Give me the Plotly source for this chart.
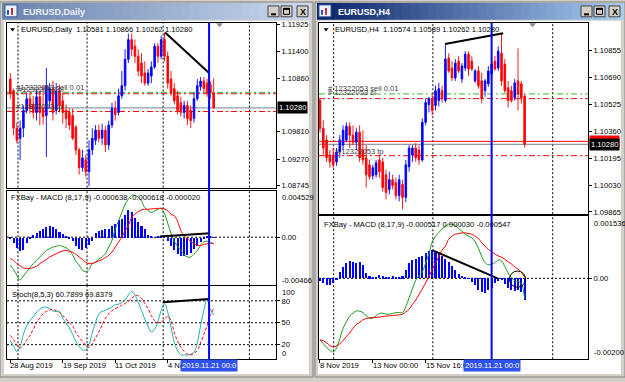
import plotly.graph_objects as go

# ---------------- data : EURUSD Daily ----------------
daily_open = [1.1085, 1.1062, 1.0988, 1.0968, 1.0988, 1.1023, 1.1046, 1.1035, 1.1019, 1.1050,
              1.1027, 1.1013, 1.1042, 1.1066, 1.1023, 1.1062, 1.1042, 1.1023, 1.1019, 1.1013,
              1.0990, 1.0945, 1.0910, 1.0925, 1.0902, 1.0945, 1.0964, 1.0984, 1.0968, 1.0984,
              1.0955, 1.0994, 1.1027, 1.1019, 1.1052, 1.1072, 1.1124, 1.1163, 1.1150, 1.1130,
              1.1117, 1.1097, 1.1077, 1.1091, 1.1109, 1.1150, 1.1130, 1.1163, 1.1130, 1.1085,
              1.1066, 1.1052, 1.1038, 1.1019, 1.1033, 1.1023, 1.1007, 1.1046, 1.1070, 1.1081,
              1.1077, 1.1074, 1.10581]
daily_high = [1.1097, 1.1066, 1.0999, 1.1003, 1.1033, 1.1058, 1.1062, 1.1052, 1.1066, 1.1062,
              1.1072, 1.1107, 1.1077, 1.1081, 1.1077, 1.1074, 1.1058, 1.1035, 1.1027, 1.1027,
              1.0994, 1.0949, 1.0945, 1.0935, 1.0964, 1.0988, 1.0994, 1.0995, 1.0997, 1.0992,
              1.1003, 1.1038, 1.1042, 1.1066, 1.1101, 1.1144, 1.1175, 1.1175, 1.1163, 1.1144,
              1.1136, 1.1120, 1.1105, 1.1120, 1.1156, 1.1156, 1.1171, 1.1177, 1.1140, 1.1101,
              1.1077, 1.1062, 1.1050, 1.1042, 1.1042, 1.1033, 1.1058, 1.1085, 1.1089, 1.1089,
              1.1085, 1.1081, 1.10866]
daily_low = [1.1046, 1.0974, 1.0958, 1.0925, 1.0970, 1.1017, 1.1017, 1.1007, 1.1003, 1.0994,
             1.0995, 1.0931, 1.1027, 1.1003, 1.1015, 1.1019, 1.0997, 1.0988, 1.0984, 1.0964,
             1.0935, 1.0896, 1.0902, 1.0892, 1.0873, 1.0935, 1.0955, 1.0960, 1.0955, 1.0941,
             1.0945, 1.0988, 1.1003, 1.1013, 1.1046, 1.1062, 1.1117, 1.1130, 1.1117, 1.1091,
             1.1077, 1.1072, 1.1072, 1.1077, 1.1105, 1.1117, 1.1124, 1.1120, 1.1066, 1.1052,
             1.1035, 1.1015, 1.1011, 1.1007, 1.0994, 1.0988, 1.0999, 1.1042, 1.1062, 1.1058,
             1.1050, 1.1046, 1.10262]
daily_close = [1.1058, 1.0988, 1.0964, 1.0988, 1.1023, 1.1046, 1.1027, 1.1019, 1.1050, 1.1019,
               1.1011, 1.1072, 1.1066, 1.1019, 1.1062, 1.1033, 1.1019, 1.1007, 1.0994, 1.0968,
               1.0945, 1.0910, 1.0929, 1.0902, 1.0945, 1.0968, 1.0984, 1.0968, 1.0984, 1.0955,
               1.0994, 1.1027, 1.1015, 1.1052, 1.1072, 1.1124, 1.1163, 1.1144, 1.1130, 1.1101,
               1.1091, 1.1077, 1.1097, 1.1109, 1.1150, 1.1130, 1.1163, 1.1130, 1.1077, 1.1058,
               1.1042, 1.1023, 1.1019, 1.1033, 1.1007, 1.1003, 1.1046, 1.1072, 1.1081, 1.1066,
               1.1058, 1.1058, 1.10280]

daily_macd_hist = [-0.00016, -0.00054, -0.00102, -0.00131, -0.00118, -0.00054, -0.00013, 0.00026, 0.00048, 0.00064,
                   0.00086, 0.00105, 0.00112, 0.00099, 0.00080, 0.00054, 0.00035, 0.00010, -0.00006, -0.00032,
                   -0.00080, -0.00105, -0.00118, -0.00102, -0.00067, -0.00029, 0.00041, 0.00064, 0.00073, 0.00080,
                   0.00089, 0.00112, 0.00137, 0.00169, 0.00185, 0.00217, 0.00265, 0.00249, 0.00191, 0.00153,
                   0.00112, 0.00080, 0.00022, 0.00010, 0.00003, 0.00010, 0.00010, 0.00003, -0.00032, -0.00080,
                   -0.00124, -0.00160, -0.00179, -0.00182, -0.00169, -0.00144, -0.00112, -0.00080, -0.00041, -0.00016,
                   0.00010, 0.00016, -0.00002]
daily_macd_main = [-0.00271, -0.00313, -0.00367, -0.00415, -0.00377, -0.00335, -0.00294, -0.00256, -0.00224, -0.00192,
                   -0.00160, -0.00128, -0.00112, -0.00096, -0.00090, -0.00080, -0.00090, -0.00102, -0.00128, -0.00169,
                   -0.00233, -0.00271, -0.00319, -0.00335, -0.00313, -0.00256, -0.00240, -0.00211, -0.00192, -0.00160,
                   -0.00096, -0.00032, 0.00079, 0.00159, 0.00239, 0.00319, 0.00367, 0.00408, 0.00405, 0.00389,
                   0.00351, 0.00287, 0.00261, 0.00239, 0.00255, 0.00271, 0.00280, 0.00229, 0.00134, 0.00038,
                   -0.00039, -0.00090, -0.00128, -0.00169, -0.00192, -0.00192, -0.00160, -0.00128, -0.00080, -0.00045,
                   -0.00039, -0.00048, -0.00064]
daily_macd_signal = [-0.00208, -0.00224, -0.00256, -0.00278, -0.00297, -0.00303, -0.00303, -0.00294, -0.00281, -0.00256,
                     -0.00236, -0.00217, -0.00192, -0.00176, -0.00160, -0.00144, -0.00134, -0.00128, -0.00137, -0.00147,
                     -0.00166, -0.00192, -0.00217, -0.00243, -0.00256, -0.00256, -0.00243, -0.00230, -0.00217, -0.00198,
                     -0.00176, -0.00144, -0.00096, -0.00048, 0.00000, 0.00063, 0.00111, 0.00191, 0.00223, 0.00248,
                     0.00264, 0.00271, 0.00271, 0.00274, 0.00277, 0.00280, 0.00280, 0.00274, 0.00255, 0.00223,
                     0.00209, 0.00154, 0.00063, 0.00016, -0.00016, -0.00039, -0.00064, -0.00077, -0.00080, -0.00070,
                     -0.00064, -0.00058, -0.00062]
daily_stoch_main = [26.1, 17.7, 10.6, 17.7, 34.1, 45.8, 52.9, 58.5, 64.6, 68.4,
                    71.2, 71.2, 69.3, 66.0, 65.5, 65.5, 56.2, 49.6, 43.5, 34.1,
                    24.7, 17.7, 12.9, 12.9, 20.0, 36.4, 50.5, 62.3, 65.5, 66.9,
                    69.3, 71.6, 74.9, 75.4, 77.7, 81.0, 88.1, 92.8, 88.1, 77.7,
                    66.9, 55.2, 44.9, 37.4, 41.1, 51.5, 66.9, 76.0, 64.6, 43.5,
                    23.3, 12.0, 5.9, 5.9, 5.9, 6.9, 9.7, 22.3, 45.8, 66.9,
                    82.5, 68.0, 60.79]
daily_stoch_signal = [32.7, 27.0, 20.0, 15.3, 20.0, 26.1, 32.7, 41.1, 50.5, 56.2,
                      62.3, 65.5, 67.4, 68.4, 66.5, 64.1, 59.9, 55.2, 49.6, 45.8,
                      36.4, 30.3, 24.7, 19.1, 16.2, 20.9, 29.4, 37.4, 46.8, 56.2,
                      62.3, 66.5, 69.3, 71.6, 74.0, 76.3, 79.6, 83.4, 87.1, 87.1,
                      83.4, 76.3, 69.3, 59.9, 52.9, 50.5, 50.5, 55.2, 59.0, 52.9,
                      36.4, 24.7, 16.7, 10.6, 6.9, 5.9, 8.3, 12.0, 22.3, 34.1,
                      45.8, 59.9, 69.84]

# ---------------- data : EURUSD H4 ----------------
h4_open = [1.10548, 1.10378, 1.10306, 1.10215, 1.10215, 1.10172, 1.10233, 1.10275, 1.10306, 1.10390,
           1.10336, 1.10293, 1.10354, 1.10245, 1.10197, 1.10154, 1.10087, 1.10093, 1.10184, 1.10172,
           1.10093, 1.10003, 1.10063, 1.10045, 1.09966, 1.10033, 1.09954, 1.10142, 1.10215, 1.10257,
           1.10245, 1.10184, 1.10415, 1.10524, 1.10560, 1.10518, 1.10548, 1.10609, 1.10548, 1.10809,
           1.10748, 1.10687, 1.10790, 1.10681, 1.10748, 1.10833, 1.10790, 1.10669, 1.10730, 1.10669,
           1.10609, 1.10651, 1.10712, 1.10790, 1.10748, 1.10839, 1.10772, 1.10627, 1.10609, 1.10566,
           1.10669, 1.10651, 1.10574]
h4_high = [1.10566, 1.10427, 1.10336, 1.10245, 1.10257, 1.10257, 1.10336, 1.10396, 1.10415, 1.10415,
           1.10396, 1.10378, 1.10396, 1.10366, 1.10275, 1.10184, 1.10154, 1.10184, 1.10215, 1.10197,
           1.10124, 1.10112, 1.10093, 1.10075, 1.10093, 1.10063, 1.10184, 1.10275, 1.10275, 1.10287,
           1.10275, 1.10439, 1.10560, 1.10572, 1.10596, 1.10639, 1.10657, 1.10639, 1.10893, 1.10839,
           1.10790, 1.10803, 1.10821, 1.10778, 1.10851, 1.10851, 1.10821, 1.10742, 1.10760, 1.10718,
           1.10681, 1.10760, 1.10790, 1.10821, 1.10881, 1.10960, 1.10803, 1.10669, 1.10639, 1.10681,
           1.10869, 1.10669, 1.10589]
h4_low = [1.10354, 1.10215, 1.10172, 1.10136, 1.10136, 1.10148, 1.10197, 1.10245, 1.10293, 1.10257,
          1.10275, 1.10245, 1.10172, 1.10154, 1.10015, 1.10063, 1.10063, 1.10075, 1.10075, 1.09990,
          1.09942, 1.09972, 1.10003, 1.09942, 1.09930, 1.09881, 1.09924, 1.10112, 1.10172, 1.10172,
          1.10154, 1.10172, 1.10396, 1.10475, 1.10457, 1.10487, 1.10512, 1.10536, 1.10536, 1.10718,
          1.10669, 1.10669, 1.10718, 1.10657, 1.10730, 1.10699, 1.10730, 1.10657, 1.10621, 1.10530,
          1.10572, 1.10633, 1.10693, 1.10730, 1.10730, 1.10639, 1.10596, 1.10506, 1.10536, 1.10548,
          1.10487, 1.10530, 1.10262]
h4_close = [1.10378, 1.10257, 1.10197, 1.10172, 1.10154, 1.10233, 1.10306, 1.10366, 1.10390, 1.10336,
            1.10293, 1.10354, 1.10197, 1.10184, 1.10093, 1.10081, 1.10136, 1.10166, 1.10112, 1.10015,
            1.09984, 1.10063, 1.10027, 1.09966, 1.10063, 1.09954, 1.10154, 1.10257, 1.10257, 1.10197,
            1.10184, 1.10415, 1.10536, 1.10560, 1.10487, 1.10609, 1.10621, 1.10560, 1.10803, 1.10730,
            1.10687, 1.10778, 1.10730, 1.10760, 1.10833, 1.10742, 1.10742, 1.10730, 1.10639, 1.10560,
            1.10669, 1.10730, 1.10772, 1.10742, 1.10851, 1.10669, 1.10609, 1.10548, 1.10548, 1.10657,
            1.10590, 1.10566, 1.10280]

h4_macd_hist = [-0.000073, -0.000114, -0.000163, -0.000179, -0.000130, -0.000033, 0.000146, 0.000268, 0.000374, 0.000415,
                0.000390, 0.000374, 0.000390, 0.000333, 0.000130, 0.000049, 0.000008, 0.000008, 0.000073, 0.000049,
                0.000008, 0.000033, 0.000049, 0.000024, 0.000033, 0.000049, 0.000195, 0.000374, 0.000447, 0.000472,
                0.000528, 0.000553, 0.000618, 0.000675, 0.000699, 0.000667, 0.000593, 0.000537, 0.000472, 0.000390,
                0.000293, 0.000195, 0.000106, 0.000057, 0.000024, -0.000008, -0.000098, -0.000179, -0.000301, -0.000350,
                -0.000374, -0.000293, -0.000244, -0.000130, -0.000081, -0.000041, -0.000138, -0.000252, -0.000285, -0.000309,
                -0.000301, -0.000341, -0.000547]
h4_macd_main = [-0.001520, -0.001618, -0.001707, -0.001780, -0.001821, -0.001724, -0.001496, -0.001236, -0.001073, -0.000927,
                -0.000862, -0.000805, -0.000813, -0.000846, -0.000927, -0.000992, -0.000984, -0.000927, -0.000870, -0.000862,
                -0.000886, -0.000886, -0.000870, -0.000846, -0.000846, -0.000846, -0.000699, -0.000480, -0.000260, -0.000049,
                0.000065, 0.000163, 0.000374, 0.000602, 0.000902, 0.001041, 0.001130, 0.001220, 0.001285, 0.001341,
                0.001333, 0.001309, 0.001228, 0.001163, 0.001089, 0.001041, 0.001000, 0.000902, 0.000740, 0.000537,
                0.000390, 0.000333, 0.000350, 0.000390, 0.000455, 0.000431, 0.000293, 0.000130, 0.000008, -0.000057,
                -0.000081, -0.000130, -0.000504]
h4_macd_signal = [-0.001520, -0.001545, -0.001593, -0.001659, -0.001699, -0.001667, -0.001618, -0.001537, -0.001439, -0.001350,
                  -0.001236, -0.001138, -0.001089, -0.001024, -0.000992, -0.000976, -0.000967, -0.000967, -0.000959, -0.000943,
                  -0.000935, -0.000927, -0.000919, -0.000911, -0.000902, -0.000886, -0.000829, -0.000764, -0.000642, -0.000537,
                  -0.000398, -0.000260, -0.000114, 0.000049, 0.000211, 0.000374, 0.000537, 0.000699, 0.000797, 0.000967,
                  0.001041, 0.001089, 0.001106, 0.001122, 0.001122, 0.001106, 0.001089, 0.001041, 0.000984, 0.000878,
                  0.000797, 0.000715, 0.000659, 0.000602, 0.000553, 0.000520, 0.000472, 0.000407, 0.000358, 0.000276,
                  0.000228, 0.000146, 0.000030]

# ---------------- labels / levels ----------------
daily_price_ticks = [1.11925, 1.11400, 1.10860, 1.09810, 1.09270, 1.08745]
h4_price_ticks = [1.10855, 1.10690, 1.10525, 1.10360, 1.10195, 1.10030, 1.09865]
daily_date_labels = ["28 Aug 2019", "19 Sep 2019", "11 Oct 2019", "4 Nov 2019"]
daily_date_bars = [0, 16, 32, 48]
h4_date_labels = ["8 Nov 2019", "13 Nov 00:00", "15 Nov 16:00"]
h4_date_bars = [0, 16, 32]
cursor_label = "2019.11.21 00:0"
daily_cursor_bar = 60.6
h4_cursor_bar = 52
daily_grid_bars = [2.35, 23.4, 46.6, 72.9]
h4_grid_bars = [4.15, 34.2, 70.5]
order_open, order_sl, order_tp = 1.10589, 1.10560, 1.10210
bid_price, ask_price = 1.10280, 1.10298
stoch_levels = [80, 50, 20]

daily_trend_x, daily_trend_y = [47.2, 60.6], [1.11769, 1.10970]
daily_macd_trend_x, daily_macd_trend_y = [45.6, 60.9], [0.00006, 0.00038]
daily_stoch_trend_x, daily_stoch_trend_y = [46.6, 60.6], [78.0, 82.4]
h4_trend_x, h4_trend_y = [37.9, 55.5], [1.10895, 1.10962]
h4_macd_trend_x, h4_macd_trend_y = [34.15, 53.85], [0.00069, 0.0]

# ---------------- helpers ----------------
W, H = 625, 382
FONT = "Liberation Sans"
FS = 7.6
BLUE, RED, GREEN, CYAN = "#0000ff", "#ff0000", "#1a9a1a", "#20b2aa"


def fx(p):
    return p / W


def fy(p):
    return 1 - p / H


daily_idx = list(range(len(daily_close)))
h4_idx = list(range(len(h4_close)))

fig = go.Figure()

# ---- candles
for xs, o, h, l, c, xa, ya in [
    (daily_idx, daily_open, daily_high, daily_low, daily_close, "x", "y"),
    (h4_idx, h4_open, h4_high, h4_low, h4_close, "x4", "y4"),
]:
    fig.add_trace(go.Candlestick(
        x=xs, open=o, high=h, low=l, close=c,
        increasing=dict(line=dict(color=BLUE, width=0.9), fillcolor=BLUE),
        decreasing=dict(line=dict(color=RED, width=0.9), fillcolor=RED),
        whiskerwidth=0, xaxis=xa, yaxis=ya, showlegend=False))

# ---- MACD panes
for xs, hist, main, sig, xa, ya in [
    (daily_idx, daily_macd_hist, daily_macd_main, daily_macd_signal, "x2", "y2"),
    (h4_idx, h4_macd_hist, h4_macd_main, h4_macd_signal, "x5", "y5"),
]:
    fig.add_trace(go.Bar(x=xs, y=hist, marker_color=BLUE, marker_line_width=0, width=0.62,
                         xaxis=xa, yaxis=ya, showlegend=False))
    fig.add_trace(go.Scatter(x=xs, y=main, mode="lines", line=dict(color=GREEN, width=1, shape="spline"),
                             xaxis=xa, yaxis=ya, showlegend=False))
    fig.add_trace(go.Scatter(x=xs, y=sig, mode="lines", line=dict(color=RED, width=1, shape="spline"),
                             xaxis=xa, yaxis=ya, showlegend=False))

# ---- Stochastic
fig.add_trace(go.Scatter(x=daily_idx, y=daily_stoch_main, mode="lines",
                         line=dict(color=CYAN, width=1, shape="spline"), xaxis="x3", yaxis="y3", showlegend=False))
fig.add_trace(go.Scatter(x=daily_idx, y=daily_stoch_signal, mode="lines",
                         line=dict(color=RED, width=1, dash="3px,2px", shape="spline"), xaxis="x3", yaxis="y3",
                         showlegend=False))

# ---- trend lines
for tx, ty, xa, ya in [
    (daily_trend_x, daily_trend_y, "x", "y"),
    (daily_macd_trend_x, daily_macd_trend_y, "x2", "y2"),
    (daily_stoch_trend_x, daily_stoch_trend_y, "x3", "y3"),
    (h4_trend_x, h4_trend_y, "x4", "y4"),
    (h4_macd_trend_x, h4_macd_trend_y, "x5", "y5"),
]:
    fig.add_trace(go.Scatter(x=tx, y=ty, mode="lines", line=dict(color="black", width=2),
                             xaxis=xa, yaxis=ya, showlegend=False))

shapes = []
annotations = []


def rect(x0, y0, x1, y1, fill, line=None, lw=0, layer="below"):
    shapes.append(dict(type="rect", xref="paper", yref="paper", x0=fx(x0), x1=fx(x1), y0=fy(y1), y1=fy(y0),
                       fillcolor=fill, line=dict(color=line or fill, width=lw), layer=layer))


def hexrgb(c):
    return tuple(int(c[i:i + 2], 16) for i in (1, 3, 5))


def gradient(x0, x1, y0, y1, c0, c1, n=36):
    a, b = hexrgb(c0), hexrgb(c1)
    step = (x1 - x0) / n
    for k in range(n):
        t = k / (n - 1)
        col = "rgb(%d,%d,%d)" % tuple(round(a[j] + (b[j] - a[j]) * t) for j in range(3))
        rect(x0 + k * step, y0, x0 + (k + 1) * step + 0.6, y1, col)


def text(x, y, s, size=FS, color="black", anchor="left", bold=False, bg=None, **kw):
    annotations.append(dict(xref="paper", yref="paper", x=fx(x), y=fy(y), text=("<b>%s</b>" % s) if bold else s,
                            showarrow=False, xanchor=anchor, yanchor="middle",
                            font=dict(family=FONT, size=size, color=color), bgcolor=bg, **kw))


# ---- windows
rect(0, 0, 313, 380, "#d4d0c8", "#808080", 1)
rect(315, 0, 625, 380, "#d4d0c8", "#808080", 1)
rect(4, 19, 309, 377, "white")
rect(318, 19, 621, 377, "white")
gradient(2, 310, 1, 18, "#6a82ae", "#c8d8ee")
gradient(317, 623, 1, 18, "#0a246a", "#a6caf0")
for x0 in (5, 319):
    rect(x0, 3, x0 + 12, 15, "#eef2fa", "#3a5f9a", 1)
    rect(x0 + 2, 8, x0 + 4, 13, "#3050c0")
    rect(x0 + 6, 6, x0 + 8, 13, "#c03030")
text(21, 10, "EURUSD,Daily", size=9, color="#eef2f8", bold=True)
text(336, 10, "EURUSD,H4", size=9, color="white", bold=True)
for bx in ((268, 281, 297), (581, 594, 609)):
    for x0 in bx:
        rect(x0, 4, x0 + 11, 15, "#d4d0c8", "#404040", 1)
    shapes.append(dict(type="line", xref="paper", yref="paper", x0=fx(bx[0] + 3), x1=fx(bx[0] + 8),
                       y0=fy(12.5), y1=fy(12.5), line=dict(color="black", width=2)))
    shapes.append(dict(type="rect", xref="paper", yref="paper", x0=fx(bx[1] + 2.5), x1=fx(bx[1] + 8.5),
                       y0=fy(12.5), y1=fy(6.5), line=dict(color="black", width=1)))
    shapes.append(dict(type="line", xref="paper", yref="paper", x0=fx(bx[1] + 2.5), x1=fx(bx[1] + 8.5),
                       y0=fy(7), y1=fy(7), line=dict(color="black", width=2)))
    text(bx[2] + 5.5, 9.8, "X", size=9, color="black", anchor="center", bold=True)

# ---- pane geometry (pixels)
L_X0, L_X1, R_X0, R_X1 = 7, 276, 319, 588
L_MAIN, L_MACD, L_STO = (21, 188), (191, 287), (288, 362)
R_MAIN, R_MACD = (21, 215), (217, 362)

# ---- vertical dotted grid
for bars, xa, panes in [(daily_grid_bars, "x", (L_MAIN, L_MACD, L_STO)), (h4_grid_bars, "x4", (R_MAIN, R_MACD))]:
    for b in bars:
        for top, bot in panes:
            shapes.append(dict(type="line", xref=xa, yref="paper", x0=b, x1=b, y0=fy(bot), y1=fy(top),
                               line=dict(color="black", width=1, dash="2px,2px"), layer="below"))

# ---- horizontal levels
for ya, x0, x1 in [("y2", L_X0, L_X1), ("y5", R_X0, R_X1)]:
    shapes.append(dict(type="line", xref="paper", yref=ya, x0=fx(x0), x1=fx(x1), y0=0, y1=0,
                       line=dict(color="black", width=1, dash="2px,2px"), layer="below"))
for lv in stoch_levels:
    shapes.append(dict(type="line", xref="paper", yref="y3", x0=fx(L_X0), x1=fx(L_X1), y0=lv, y1=lv,
                       line=dict(color="black", width=1, dash="2px,2px"), layer="below"))

# ---- order lines
for ya, x0, x1, show_ask in [("y", L_X0, L_X1, False), ("y4", R_X0, R_X1, True)]:
    shapes.append(dict(type="line", xref="paper", yref=ya, x0=fx(x0), x1=fx(x1), y0=order_open, y1=order_open,
                       line=dict(color="#33bb33", width=1, dash="6px,3px,2px,3px"), layer="below"))
    for lv in (order_sl, order_tp):
        shapes.append(dict(type="line", xref="paper", yref=ya, x0=fx(x0), x1=fx(x1), y0=lv, y1=lv,
                           line=dict(color=RED, width=1, dash="6px,3px,2px,3px"), layer="below"))
    shapes.append(dict(type="line", xref="paper", yref=ya, x0=fx(x0), x1=fx(x1), y0=bid_price, y1=bid_price,
                       line=dict(color="#708090", width=1), layer="below"))
    if show_ask:
        shapes.append(dict(type="line", xref="paper", yref=ya, x0=fx(x0), x1=fx(x1), y0=ask_price, y1=ask_price,
                           line=dict(color=RED, width=1), layer="below"))

# ---- cursor lines
shapes.append(dict(type="line", xref="x", yref="paper", x0=daily_cursor_bar, x1=daily_cursor_bar,
                   y0=fy(L_STO[1]), y1=fy(L_MAIN[0]), line=dict(color=BLUE, width=2)))
shapes.append(dict(type="line", xref="x4", yref="paper", x0=h4_cursor_bar, x1=h4_cursor_bar,
                   y0=fy(R_MACD[1]), y1=fy(R_MAIN[0]), line=dict(color=BLUE, width=2)))

# ---- circle in H4 MACD
shapes.append(dict(type="circle", xref="x5", yref="y5", x0=57.4, x1=62.3, y0=-0.00022, y1=0.00018,
                   line=dict(color="black", width=1)))


def tri(x0, x1, y0, y1, color):
    shapes.append(dict(type="path", xref="paper", yref="paper",
                       path="M %f,%f L %f,%f L %f,%f Z" % (fx(x0), fy(y0), fx(x1), fy(y0), fx((x0 + x1) / 2), fy(y1)),
                       fillcolor=color, line=dict(color=color, width=0)))


tri(10, 15, 26.5, 30, "black")
tri(323.5, 328.5, 26.5, 30, "black")
tri(216, 223, 21.5, 25.5, "#8c8c8c")
tri(529, 536, 21.5, 25.5, "#8c8c8c")

# ---- header texts
text(19, 28, "EURUSD,Daily  1.10581 1.10866 1.10262 1.10280")
text(333, 28, "EURUSD,H4  1.10574 1.10589 1.10262 1.10280")
text(9, 198, "FXBay - MACD (8,17,9) -0.000638 -0.000618 -0.000020")
text(10, 296, "Stoch(8,5,3) 60.7899 69.8379")
text(322, 225, "FXBay - MACD (8,17,9) -0.000517 0.000030 -0.000547")

# order labels (overlapping as in the terminal)
GREY = "#404040"
text(14, 86.5, "#12322053 sell 0.01", color=GREY)
text(16, 88.5, "#12322053 sl", color=GREY)
text(14, 106, "#12322053 tp", color=GREY)
text(326, 87.5, "# 12322053 sell 0.01", color=GREY)
text(326, 91.5, "# 12322053 sl", color=GREY)
text(333, 151.5, "# 12322053 tp", color=GREY)

# edge axis labels
text(280, 198, "0.004529")
text(280, 282, "-0.00466")
text(280, 294, "100")
text(280, 356, "0")
text(592, 224.5, "0.001536")
text(592, 355.5, "-0.00200")

# price boxes
annotations.append(dict(xref="paper", yref="y", x=fx(277), y=bid_price, text="1.10280", showarrow=False,
                        xanchor="left", yanchor="middle", bgcolor="black", borderpad=1,
                        font=dict(family=FONT, size=FS, color="white")))
annotations.append(dict(xref="paper", yref="y4", x=fx(589), y=ask_price, text="1.10298", showarrow=False,
                        xanchor="left", yanchor="middle", bgcolor=RED, borderpad=1,
                        font=dict(family=FONT, size=FS, color="white")))
annotations.append(dict(xref="paper", yref="y4", x=fx(589), y=bid_price, text="1.10280", showarrow=False,
                        xanchor="left", yanchor="middle", bgcolor="black", borderpad=1,
                        font=dict(family=FONT, size=FS, color="white")))

# date labels
for labels, bars, xa in [(daily_date_labels, daily_date_bars, "x3"), (h4_date_labels, h4_date_bars, "x5")]:
    for lab, b in zip(labels, bars):
        annotations.append(dict(xref=xa, yref="paper", x=b, y=fy(368.5), text=lab, showarrow=False,
                                xanchor="left", yanchor="middle", xshift=-2,
                                font=dict(family=FONT, size=FS, color="black")))
for b, xa in [(daily_cursor_bar, "x3"), (h4_cursor_bar, "x5")]:
    annotations.append(dict(xref=xa, yref="paper", x=b, y=fy(368.5), text=cursor_label, showarrow=False,
                            xanchor="center", yanchor="middle", bgcolor="#2f52ee", borderpad=1,
                            font=dict(family=FONT, size=FS, color="white")))


# ---- axes
def xax(rng, x0, x1, anchor, tickvals=None):
    d = dict(domain=[fx(x0), fx(x1)], range=rng, anchor=anchor, showgrid=False, zeroline=False,
             showticklabels=False, showline=True, mirror=True, linecolor="black", linewidth=1,
             fixedrange=True, rangeslider=dict(visible=False))
    if tickvals is not None:
        d.update(tickvals=tickvals, ticks="outside", ticklen=3, tickcolor="black", tickwidth=1)
    else:
        d.update(ticks="")
    return d


def yax(rng, pane, anchor, tickvals, ticktext):
    return dict(domain=[fy(pane[1]), fy(pane[0])], range=rng, anchor=anchor, side="right", showgrid=False,
                zeroline=False, showline=True, mirror=True, linecolor="black", linewidth=1, ticks="outside",
                ticklen=3, tickwidth=1, tickcolor="black", tickvals=tickvals, ticktext=ticktext,
                tickfont=dict(family=FONT, size=FS, color="black"), fixedrange=True)


DR = [-1, 81]
HR = [-0.3, 81.2]
fig.update_layout(
    width=W, height=H, autosize=False,
    margin=dict(l=0, r=0, t=0, b=0, pad=0),
    paper_bgcolor="#d4d0c8", plot_bgcolor="rgba(0,0,0,0)",
    showlegend=False, bargap=0,
    font=dict(family=FONT, size=FS, color="black"),
    xaxis=xax(DR, L_X0, L_X1, "y"),
    xaxis2=xax(DR, L_X0, L_X1, "y2"),
    xaxis3=xax(DR, L_X0, L_X1, "y3", daily_date_bars),
    xaxis4=xax(HR, R_X0, R_X1, "y4"),
    xaxis5=xax(HR, R_X0, R_X1, "y5", h4_date_bars),
    yaxis=yax([1.08706, 1.11964], L_MAIN, "x", daily_price_ticks, ["%.5f" % v for v in daily_price_ticks]),
    yaxis2=yax([-0.00466, 0.004529], L_MACD, "x2", [0], ["0.00"]),
    yaxis3=yax([0, 100], L_STO, "x3", stoch_levels, [str(v) for v in stoch_levels]),
    yaxis4=yax([1.09851, 1.11026], R_MAIN, "x4", h4_price_ticks, ["%.5f" % v for v in h4_price_ticks]),
    yaxis5=yax([-0.00200, 0.001536], R_MACD, "x5", [0], ["0.00"]),
    shapes=shapes,
    annotations=annotations,
)

fig.write_html("out.html")
